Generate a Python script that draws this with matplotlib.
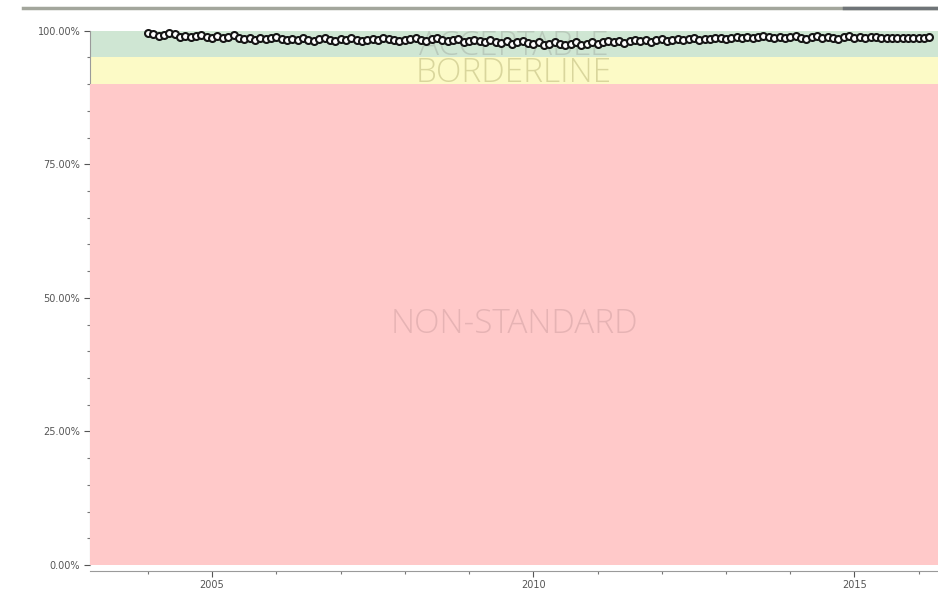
import numpy as np
import matplotlib.pyplot as plt
from matplotlib.ticker import MultipleLocator, FuncFormatter
from matplotlib.lines import Line2D

# monthly compliance, Jan 2004 .. Mar 2016
start_year = 2004
values = [
    99.6, 99.3, 99.0, 99.2, 99.5, 99.3, 98.9, 99.1, 98.8, 99.0, 99.2, 98.9,
    98.7, 99.0, 98.6, 98.8, 99.2, 98.6, 98.5, 98.7, 98.3, 98.6, 98.4, 98.7,
    98.9, 98.5, 98.2, 98.5, 98.3, 98.6, 98.2, 98.0, 98.4, 98.7, 98.3, 98.1,
    98.4, 98.2, 98.6, 98.3, 98.0, 98.3, 98.5, 98.2, 98.7, 98.4, 98.3, 98.0,
    98.2, 98.5, 98.7, 98.3, 98.1, 98.4, 98.6, 98.3, 98.0, 98.2, 98.4, 97.9,
    98.1, 98.3, 98.0, 97.8, 98.2, 97.9, 97.7, 98.0, 97.6, 97.8, 98.1, 97.7,
    97.5, 97.8, 97.4, 97.6, 97.9, 97.5, 97.3, 97.6, 97.8, 97.4, 97.6, 97.9,
    97.6, 97.9, 98.1, 97.8, 98.0, 97.7, 98.1, 98.3, 98.0, 98.2, 97.9, 98.2,
    98.4, 98.1, 98.3, 98.5, 98.2, 98.4, 98.6, 98.3, 98.5, 98.4, 98.6, 98.7,
    98.5, 98.7, 98.9, 98.6, 98.8, 98.7, 98.9, 99.1, 98.8, 98.7, 98.9, 98.6,
    98.8, 99.0, 98.7, 98.5, 98.8, 99.0, 98.6, 98.9, 98.7, 98.5, 98.8, 99.0,
    98.7, 98.9, 98.6, 98.8, 98.9, 98.6, 98.7, 98.6, 98.6, 98.7, 98.6, 98.6,
    98.7, 98.7, 98.8,
]
dates = [start_year + i / 12.0 for i in range(len(values))]

# zones, bottom to top
zone_names = ['NON-STANDARD', 'BORDERLINE', 'ACCEPTABLE']
zone_low = [0, 90, 95]
zone_high = [90, 95, 100]
zone_colors = ['#ffc9c9', '#fcfac6', '#cfe6d3']
text_colors = ['#e6b3b4', '#d9d69c', '#b9cabb']
text_y = [45, 92.1, 97.1]
# draw order so the yellow band hides the lower part of ACCEPTABLE
zone_z = [4, 2, 0]

fig = plt.figure(figsize=(9.38, 5.91), dpi=100)
ax = fig.add_axes([0.096, 0.044, 0.904, 0.904])

for i in range(3):
    ax.axhspan(zone_low[i], zone_high[i], color=zone_colors[i], lw=0, zorder=zone_z[i])
    ax.text(0.5, text_y[i], zone_names[i], ha='center', va='center',
            transform=ax.get_yaxis_transform(),
            fontsize=24, color=text_colors[i], family='Open Sans', weight='light',
            zorder=zone_z[i] + 1)

ax.plot(dates, values, '-o', color='#151515', lw=1.4, ms=5, mfc='white',
        mec='#151515', mew=1.5, zorder=10, clip_on=False)

ax.set_xlim(2003.1, 2016.3)
ax.set_ylim(0, 100)
ax.xaxis.set_major_locator(MultipleLocator(5))
ax.xaxis.set_minor_locator(MultipleLocator(1))
ax.yaxis.set_major_locator(MultipleLocator(25))
ax.yaxis.set_minor_locator(MultipleLocator(5))
ax.yaxis.set_major_formatter(FuncFormatter(lambda v, p: '{:.2f}%'.format(v)))
ax.xaxis.set_major_formatter(FuncFormatter(lambda v, p: '{:d}'.format(int(round(v)))))

for s in ['top', 'right']:
    ax.spines[s].set_visible(False)
for s in ['left', 'bottom']:
    ax.spines[s].set_color('#9a9a9a')
    ax.spines[s].set_linewidth(0.8)
ax.spines['bottom'].set_position(('outward', 4))
ax.tick_params(which='major', length=4, width=0.8, color='#555555',
               labelsize=7, labelcolor='#555555', pad=3)
ax.tick_params(which='minor', length=2, width=0.8, color='#777777')

# grey rule across the top of the picture
fig.add_artist(Line2D([0.024, 1.0], [0.986, 0.986], color='#a3a69c', lw=2.5))
fig.add_artist(Line2D([0.9, 1.0], [0.986, 0.986], color='#6f7478', lw=2.5))

fig.savefig('out.png', dpi=100)
